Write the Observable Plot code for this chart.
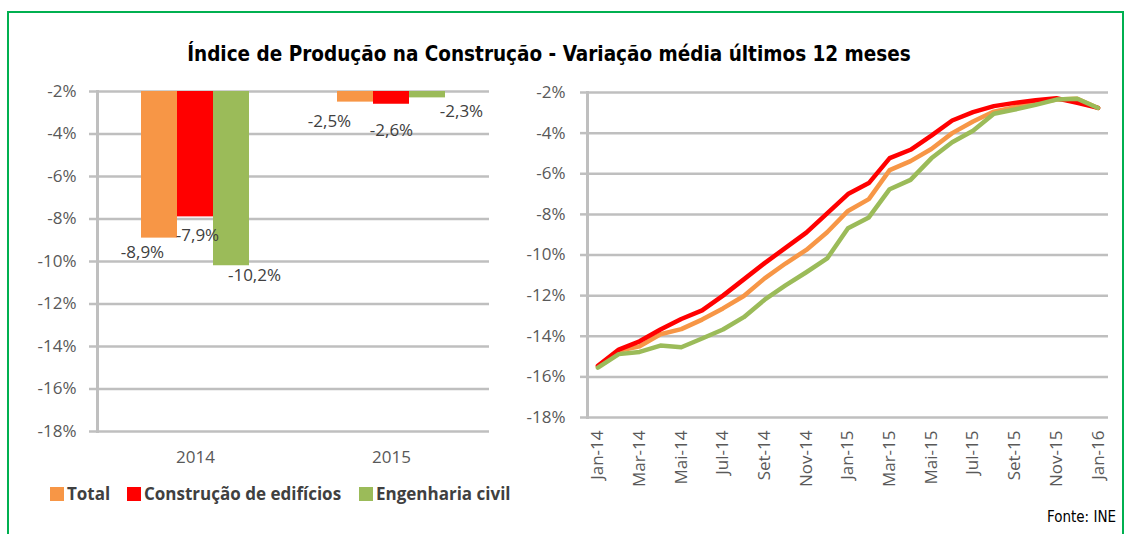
<!DOCTYPE html>
<html>
<head>
<meta charset="utf-8">
<script src="https://cdn.jsdelivr.net/npm/d3@7"></script>
<script src="https://cdn.jsdelivr.net/npm/@observablehq/plot@0.6"></script>
<style>
  body { margin: 0; background: #fff; width: 1132px; height: 534px; overflow: hidden; position: relative; font-family: "Open Sans", sans-serif; }
  #frame { position: absolute; left: 7px; top: 11px; width: 1117px; height: 560px; border: 2px solid #00B050; box-sizing: border-box; }
  #title { position: absolute; left: 0; width: 1098px; top: 42px; text-align: center; font: bold 20.5px "Liberation Sans Narrow", "DejaVu Sans Condensed", sans-serif; color: #000; }
  #left { position: absolute; left: 0; top: 0; }
  #right { position: absolute; left: 500px; top: 0; }
  .leg { position: absolute; top: 482px; display: flex; align-items: center; font: bold 17px "Open Sans", sans-serif; color: #404040; white-space: nowrap; }
  .leg span.sw { display: inline-block; width: 14px; height: 14px; margin-right: 3px; }
  #source { position: absolute; right: 16px; top: 508px; font: 15px "Liberation Sans Narrow", "DejaVu Sans Condensed", sans-serif; color: #000; }
</style>
</head>
<body>
<div id="frame"></div>
<div id="title">Índice de Produção na Construção - Variação média últimos 12 meses</div>
<div id="left"></div>
<div id="right"></div>
<div id="legend"></div>
<div id="source">Fonte: INE</div>
<script>
// ---- Data ----
const series = ["Total", "Construção de edifícios", "Engenharia civil"];
const colors = ["#F79646", "#FF0000", "#9BBB59"];
const years = ["2014", "2015"];
const barTotal = [-8.9, -2.5];
const barEdificios = [-7.9, -2.6];
const barEngenharia = [-10.2, -2.3];

const months = ["Jan-14","Fev-14","Mar-14","Abr-14","Mai-14","Jun-14","Jul-14","Ago-14","Set-14","Out-14","Nov-14","Dez-14",
                "Jan-15","Fev-15","Mar-15","Abr-15","Mai-15","Jun-15","Jul-15","Ago-15","Set-15","Out-15","Nov-15","Dez-15","Jan-16"];
const lineTotal = [-15.5, -14.72, -14.5, -13.9, -13.65, -13.18, -12.63, -12.02, -11.15, -10.42, -9.75, -8.88, -7.83,
                   -7.25, -5.82, -5.38, -4.78, -4.0, -3.43, -2.94, -2.72, -2.51, -2.35, -2.31, -2.76];
const lineEdificios = [-15.45, -14.66, -14.25, -13.67, -13.15, -12.73, -12.0, -11.2, -10.4, -9.65, -8.9, -7.95, -7.0,
                       -6.46, -5.23, -4.82, -4.12, -3.38, -2.97, -2.67, -2.51, -2.38, -2.28, -2.51, -2.76];
const lineEngenharia = [-15.55, -14.88, -14.77, -14.46, -14.54, -14.11, -13.67, -13.06, -12.2, -11.5, -10.85, -10.17, -8.68,
                        -8.15, -6.76, -6.3, -5.24, -4.45, -3.88, -3.05, -2.84, -2.61, -2.35, -2.31, -2.76];
const yTicks = [-18, -16, -14, -12, -10, -8, -6, -4, -2];
const xTickIdx = [0, 2, 4, 6, 8, 10, 12, 14, 16, 18, 20, 22, 24];

// ---- Build tables ----
const barSeries = [barTotal, barEdificios, barEngenharia];
const barData = [];
years.forEach((yr, yi) => series.forEach((s, si) => barData.push({year: yr, series: s, value: barSeries[si][yi]})));
const lineSeries = [lineTotal, lineEdificios, lineEngenharia];
const lineData = [];
series.forEach((s, si) => lineSeries[si].forEach((v, i) => lineData.push({series: s, i, value: v})));

// label layout offsets (dx, dy) per bar, in barData order
const labelOffsets = [[-17, 14], [2, 19], [23, 10], [-26, 19], [0, 26], [34, 14]];
const fmt = v => v.toFixed(1).replace(".", ",") + "%";
const yFmt = v => v + "%";
const yTop = d3.max(yTicks);
const grid = "#BFBFBF";
const tickCol = "#595959";

// ---- Left: grouped bars ----
const left = Plot.plot({
  width: 500, height: 480,
  marginLeft: 96, marginRight: 11, marginTop: 91, marginBottom: 49,
  style: {fontFamily: "Open Sans", background: "transparent"},
  fx: {domain: years, padding: 0, axis: null, label: null},
  x: {domain: series, paddingInner: 0, paddingOuter: 1.2, axis: null},
  y: {domain: [d3.min(yTicks), yTop], axis: null, label: null},
  color: {domain: series, range: colors},
  marks: [
    Plot.gridY(yTicks, {stroke: grid, strokeOpacity: 1, strokeWidth: 2.5}),
    Plot.barY(barData, {fx: "year", x: "series", y1: () => yTop, y2: "value", fill: "series"}),
    ...barData.map((d, k) => Plot.text([d], {fx: "year", x: "series", y: "value", text: e => fmt(e.value),
        dx: labelOffsets[k][0], dy: labelOffsets[k][1], fontSize: 17, fill: "#404040"})),
    Plot.axisY(yTicks, {tickFormat: yFmt, tickSize: 8, tickPadding: 13, stroke: grid, strokeWidth: 2.5, fill: tickCol, fontSize: 17, label: null}),
    Plot.axisFx({anchor: "bottom", tickSize: 0, tickPadding: 19, fontSize: 17, fill: tickCol, label: null}),
    Plot.frame({anchor: "left", stroke: grid, strokeWidth: 3, facet: "super"})
  ]
});
document.getElementById("left").appendChild(left);

// ---- Right: lines ----
const right = Plot.plot({
  width: 632, height: 534,
  marginLeft: 87, marginRight: 24, marginTop: 92, marginBottom: 117,
  style: {fontFamily: "Open Sans", background: "transparent"},
  x: {domain: [-0.5, months.length - 0.5]},
  y: {domain: [d3.min(yTicks), yTop]},
  color: {domain: series, range: colors},
  marks: [
    Plot.gridY(yTicks, {stroke: grid, strokeOpacity: 1, strokeWidth: 2.5}),
    Plot.axisY(yTicks, {tickFormat: yFmt, tickSize: 7, tickPadding: 15, stroke: grid, strokeWidth: 2.5, fill: tickCol, fontSize: 17, label: null}),
    Plot.axisX(xTickIdx, {tickFormat: i => months[i], tickRotate: -90, tickSize: 0, tickPadding: 13, fill: tickCol, fontSize: 17, label: null}),
    Plot.frame({anchor: "left", stroke: grid, strokeWidth: 3}),
    Plot.line(lineData, {x: "i", y: "value", z: "series", stroke: "series", strokeWidth: 4.5, strokeLinejoin: "round"})
  ]
});
document.getElementById("right").appendChild(right);

// ---- Legend ----
const legPos = [50, 127, 359];
const legend = document.getElementById("legend");
series.forEach((s, i) => {
  const div = document.createElement("div");
  div.className = "leg";
  div.style.left = legPos[i] + "px";
  div.innerHTML = `<span class="sw" style="background:${colors[i]}"></span>${s}`;
  legend.appendChild(div);
});
</script>
</body>
</html>
